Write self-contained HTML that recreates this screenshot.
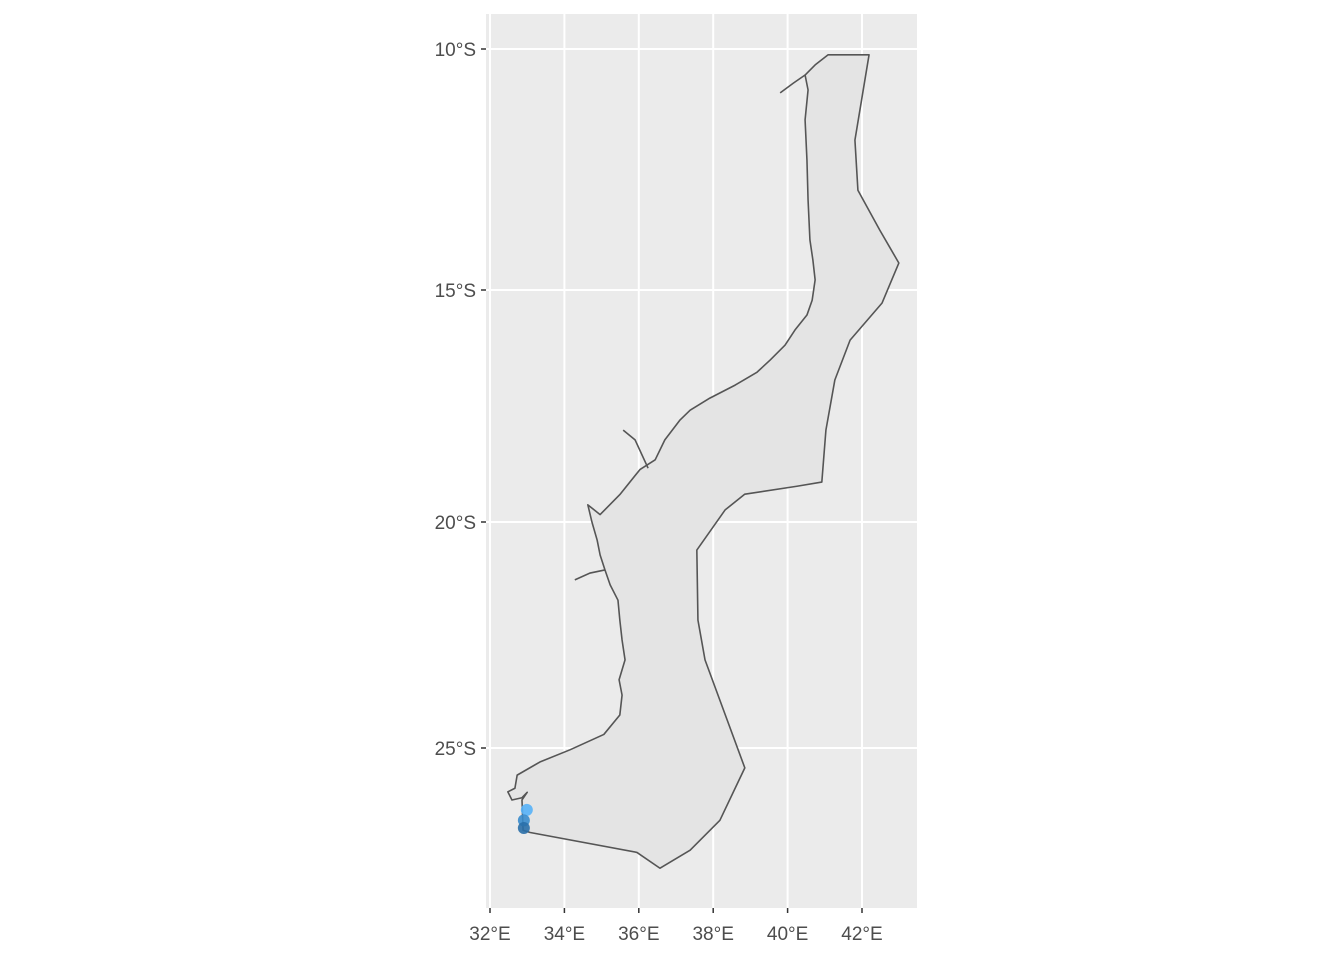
<!DOCTYPE html>
<html><head><meta charset="utf-8"><style>
body{margin:0;background:#fff;}
text{font-family:"Liberation Sans",sans-serif;font-size:19px;fill:#4d4d4d;}
</style></head><body>
<svg id="chart" width="1344" height="960" xmlns="http://www.w3.org/2000/svg">
<rect x="486" y="14" width="431" height="894" fill="#ebebeb"/>
<g id="grid"></g>
<g id="shape"></g>
<g id="pts"></g>
<g id="axes"></g>
</svg>
<script>
const lonTicks=[32,34,36,38,40,42];
const latTicks=[10,15,20,25];
const outline=[[41.09,10.12],[42.19,10.12],[41.81,11.89],[41.89,12.93],[42.48,13.76],[42.99,14.44],[42.54,15.28],[41.68,16.08],[41.27,16.94],[41.03,18.02],[40.92,19.14],[40.25,19.23],[38.85,19.40],[38.32,19.74],[37.56,20.62],[37.59,22.17],[37.78,23.05],[38.85,25.44],[38.18,26.60],[37.38,27.26],[36.57,27.66],[35.95,27.31],[33.08,26.87],[32.89,26.82],[32.86,26.15],[33.0,25.98],[32.86,26.10],[32.59,26.15],[32.48,25.97],[32.67,25.89],[32.73,25.60],[33.34,25.31],[34.15,25.04],[35.06,24.70],[35.49,24.27],[35.55,23.83],[35.47,23.49],[35.63,23.05],[35.55,22.61],[35.49,22.17],[35.44,21.73],[35.23,21.39],[35.09,21.06],[34.96,20.73],[34.88,20.40],[34.74,20.00],[34.63,19.63],[34.96,19.84],[35.49,19.41],[36.03,18.87],[36.44,18.66],[36.70,18.23],[37.11,17.80],[37.38,17.59],[37.91,17.33],[38.59,17.05],[39.18,16.77],[39.53,16.51],[39.93,16.19],[40.20,15.86],[40.52,15.54],[40.66,15.22],[40.74,14.79],[40.68,14.38],[40.60,13.96],[40.55,13.13],[40.52,12.30],[40.47,11.47],[40.55,10.85],[40.47,10.54],[40.74,10.33]];
const rivers=[[[35.58,18.02],[35.90,18.23],[36.25,18.84]],[[34.28,21.28],[34.69,21.13],[35.09,21.06]],[[39.80,10.91],[40.15,10.71],[40.47,10.54]]];
const ptLon=[32.99,32.91,32.91];
const ptLat=[26.37,26.60,26.77];
const ptColor=["#56B1F7","#3a8ccc","#2a6fa8"];
const NS="http://www.w3.org/2000/svg";
const latPx=[49,290,522,748];
function X(lon){return 490+(lon-32)*37.2;}
function Y(lat){
  let i=0; while(i<latTicks.length-2 && lat>latTicks[i+1]) i++;
  const a=latTicks[i],b=latTicks[i+1];
  return latPx[i]+(lat-a)/(b-a)*(latPx[i+1]-latPx[i]);
}
function el(t,a,p){const e=document.createElementNS(NS,t);for(const k in a)e.setAttribute(k,a[k]);p.appendChild(e);return e;}
const grid=document.getElementById('grid'),axes=document.getElementById('axes');
lonTicks.forEach(v=>{
  const l=el('line',{x1:X(v),x2:X(v),y1:14,y2:908,stroke:'#fff','stroke-width':2},grid);
  
  
  const t=el('line',{x1:X(v),x2:X(v),y1:908,y2:913,stroke:'#333','stroke-width':1.5},axes);
  
  
  const tx=el('text',{x:X(v),y:940,'text-anchor':'middle'},axes);tx.textContent=v+'°E';
  
  
});
latTicks.forEach(v=>{
  const l=el('line',{x1:486,x2:917,y1:Y(v),y2:Y(v),stroke:'#fff','stroke-width':2},grid);
  
  
  const t=el('line',{x1:481,x2:486,y1:Y(v),y2:Y(v),stroke:'#333','stroke-width':1.5},axes);
  
  
  const tx=el('text',{x:476,y:Y(v)+7,'text-anchor':'end'},axes);tx.textContent=v+'°S';
  
  
});
const shape=document.getElementById('shape');
const poly=el('polygon',{points:outline.map(p=>X(p[0])+','+Y(p[1])).join(' '),fill:'#e4e4e4',stroke:'#555','stroke-width':1.6,'stroke-linejoin':'round'},shape);


rivers.forEach(r=>{
  const pl=el('polyline',{points:r.map(p=>X(p[0])+','+Y(p[1])).join(' '),fill:'none',stroke:'#555','stroke-width':1.6},shape);
  
  
});
const pts=document.getElementById('pts');
ptLon.forEach((lon,i)=>{
  const c=el('circle',{cx:X(lon),cy:Y(ptLat[i]),r:6,fill:ptColor[i],'fill-opacity':0.9},pts);
  
  
});
</script>
</body></html>
